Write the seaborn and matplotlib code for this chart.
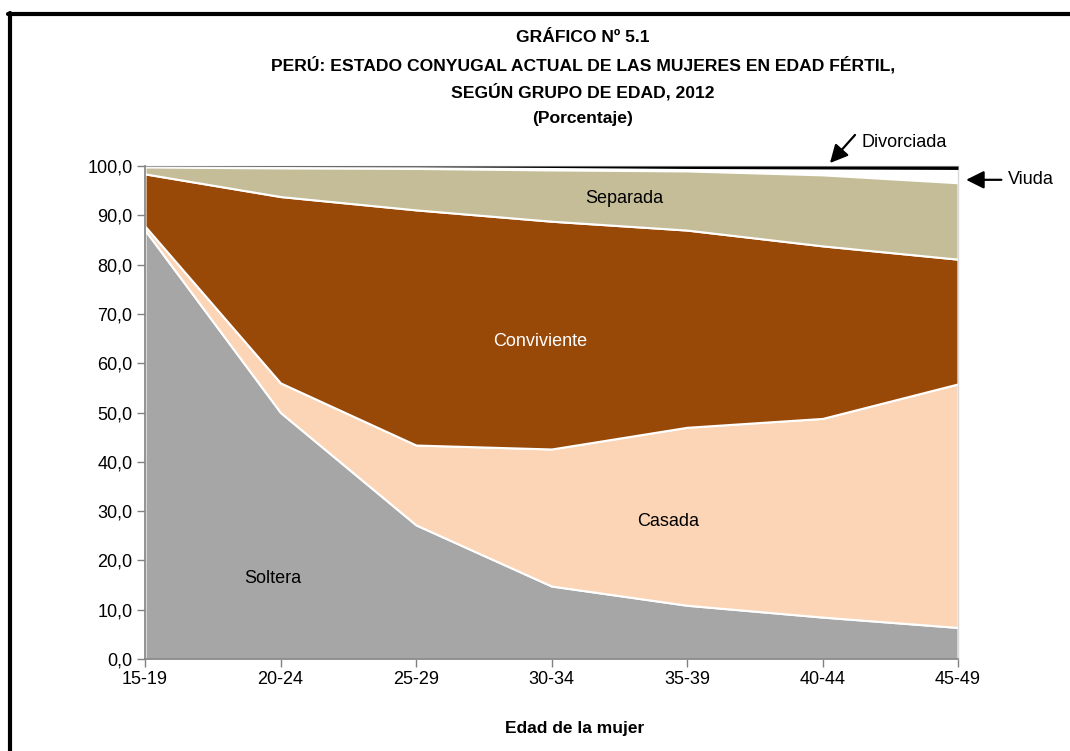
import numpy as np
import matplotlib
matplotlib.use("Agg")
import matplotlib.pyplot as plt
import seaborn as sns
from matplotlib.ticker import FuncFormatter

# age groups and percentage of women by marital status
grupos = ["15-19", "20-24", "25-29", "30-34", "35-39", "40-44", "45-49"]
soltera = [87.0, 50.0, 27.2, 14.8, 10.9, 8.5, 6.4]
casada = [0.8, 6.0, 16.2, 27.8, 36.1, 40.3, 49.4]
conviviente = [10.6, 37.8, 47.7, 46.2, 40.0, 35.0, 25.3]
separada = [1.4, 5.8, 8.4, 10.4, 12.0, 14.4, 15.5]
viuda = [0.15, 0.3, 0.35, 0.5, 0.5, 1.2, 2.7]
divorciada = [0.05, 0.1, 0.15, 0.3, 0.5, 0.6, 0.7]

colores = ["#A6A6A6", "#FBD5B5", "#984807", "#C4BD97", "#FFFFFF", "#000000"]

sns.set_theme(style="white")
plt.rcParams["font.family"] = ["Liberation Sans", "DejaVu Sans"]
plt.rcParams["text.color"] = "black"
plt.rcParams["axes.labelcolor"] = "black"
fs = 13
fs_t = 12.6

fig = plt.figure(figsize=(10.7, 7.51), dpi=100)
ax = fig.add_axes([145 / 1070, 92 / 751, 813 / 1070, 493 / 751])

x = np.arange(len(grupos))
capas = ax.stackplot(x, soltera, casada, conviviente, separada, viuda, divorciada,
                     colors=colores, edgecolor="white", linewidth=1.5)
# widowed and divorced bands without the white border
for c in capas[-2:]:
    c.set_linewidth(0)
capas[-1].set_zorder(3)

ax.set_xlim(0, len(grupos) - 1)
ax.set_ylim(0, 100)
ax.set_xticks(x)
ax.set_xticklabels(grupos)
ax.set_yticks(np.arange(0, 101, 10))
ax.yaxis.set_major_formatter(FuncFormatter(lambda v, p: f"{v:.1f}".replace(".", ",")))
ax.tick_params(axis="both", labelsize=fs, colors="#808080", labelcolor="black",
               direction="out", length=6, width=1, left=True, bottom=True, pad=3)

for s in ["top", "right"]:
    ax.spines[s].set_color("#D9D9D9")
    ax.spines[s].set_linewidth(1.0)
for s in ["left", "bottom"]:
    ax.spines[s].set_color("#808080")
    ax.spines[s].set_linewidth(1.2)
    ax.spines[s].set_zorder(5)

ax.set_xlabel("Edad de la mujer", fontsize=12.5, fontweight="bold", labelpad=19)
ax.xaxis.set_label_coords((575 - 145) / 813, -0.125)

# layer labels
ax.text(3.54, 93.5, "Separada", ha="center", va="center", fontsize=fs)
ax.text(2.915, 64.5, "Conviviente", ha="center", va="center", fontsize=fs, color="white")
ax.text(3.86, 27.8, "Casada", ha="center", va="center", fontsize=fs)
ax.text(0.945, 16.4, "Soltera", ha="center", va="center", fontsize=fs)

# arrows for the thin layers
flecha = dict(arrowstyle="-|>,head_length=0.9,head_width=0.45", color="black",
              lw=1.6, shrinkA=0, shrinkB=0)
ax.annotate("", xy=(5.055, 100.6), xytext=(5.24, 106.3), annotation_clip=False,
            arrowprops=flecha)
ax.text(5.29, 104.7, "Divorciada", ha="left", va="center", fontsize=fs, clip_on=False)
ax.annotate("", xy=(6.06, 97.2), xytext=(6.32, 97.2), annotation_clip=False,
            arrowprops=flecha)
ax.text(6.37, 97.2, "Viuda", ha="left", va="center", fontsize=fs, clip_on=False)

# title block
titulo = ["GRÁFICO Nº 5.1",
          "PERÚ: ESTADO CONYUGAL ACTUAL DE LAS MUJERES EN EDAD FÉRTIL,",
          "SEGÚN GRUPO DE EDAD, 2012",
          "(Porcentaje)"]
for i, t in enumerate(titulo):
    fig.text(583 / 1070, 1 - (38 + 27 * i) / 751, t, ha="center", va="center",
             fontsize=fs_t, fontweight="bold")

# outer frame (left and top edges)
fig.add_artist(plt.Line2D([9.5 / 1070, 9.5 / 1070], [0, 1 - 12.5 / 751],
                          color="black", lw=3, transform=fig.transFigure))
fig.add_artist(plt.Line2D([8 / 1070, 1], [1 - 14 / 751, 1 - 14 / 751],
                          color="black", lw=3, transform=fig.transFigure))

fig.savefig("out.png", dpi=100)
